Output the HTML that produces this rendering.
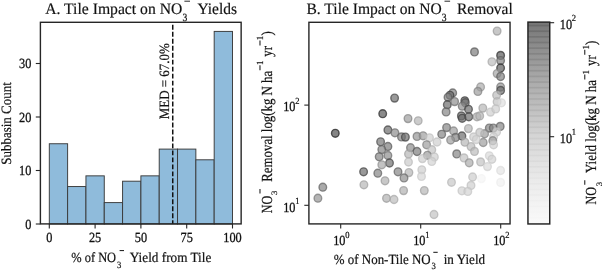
<!DOCTYPE html>
<html><head><meta charset="utf-8"><title>Tile Impact</title>
<style>html,body{margin:0;padding:0;background:#fff;}body{width:602px;height:270px;overflow:hidden;font-family:"Liberation Serif",serif;}svg{display:block;will-change:transform;}</style></head>
<body>
<svg width="602" height="270" viewBox="0 0 602 270" font-family="'Liberation Serif', serif" fill="#111" stroke="#111" stroke-width="0" text-rendering="geometricPrecision">
<g class="t" stroke-width="0.18">
</g>
<rect x="49.30" y="143.75" width="18.32" height="80.25" fill="#8fbbdb" stroke="#3a3a3a" stroke-width="0.95"/>
<rect x="67.62" y="186.55" width="18.32" height="37.45" fill="#8fbbdb" stroke="#3a3a3a" stroke-width="0.95"/>
<rect x="85.94" y="175.85" width="18.32" height="48.15" fill="#8fbbdb" stroke="#3a3a3a" stroke-width="0.95"/>
<rect x="104.26" y="202.60" width="18.32" height="21.40" fill="#8fbbdb" stroke="#3a3a3a" stroke-width="0.95"/>
<rect x="122.58" y="181.20" width="18.32" height="42.80" fill="#8fbbdb" stroke="#3a3a3a" stroke-width="0.95"/>
<rect x="140.90" y="175.85" width="18.32" height="48.15" fill="#8fbbdb" stroke="#3a3a3a" stroke-width="0.95"/>
<rect x="159.22" y="149.10" width="18.32" height="74.90" fill="#8fbbdb" stroke="#3a3a3a" stroke-width="0.95"/>
<rect x="177.54" y="149.10" width="18.32" height="74.90" fill="#8fbbdb" stroke="#3a3a3a" stroke-width="0.95"/>
<rect x="195.86" y="159.80" width="18.32" height="64.20" fill="#8fbbdb" stroke="#3a3a3a" stroke-width="0.95"/>
<rect x="214.18" y="31.40" width="18.32" height="192.60" fill="#8fbbdb" stroke="#3a3a3a" stroke-width="0.95"/>
<path d="M172.74 223.9 V22.3" stroke="#111" stroke-width="1.5" stroke-dasharray="4.9 2.08" stroke-dashoffset="1.25" fill="none"/>
<rect x="40.4" y="22.3" width="200.75" height="201.60" fill="none" stroke="#262626" stroke-width="1.4"/>
<g stroke-width="0.18">
<path d="M49.30 223.9 v4.6" stroke="#262626" stroke-width="1.1"/>
<text transform="translate(49.30 242.40) scale(1 1.135)" font-size="12.3" text-anchor="middle" stroke-width="0.25">0</text>
<path d="M95.10 223.9 v4.6" stroke="#262626" stroke-width="1.1"/>
<text transform="translate(95.10 242.40) scale(1 1.135)" font-size="12.3" text-anchor="middle" stroke-width="0.25">25</text>
<path d="M140.90 223.9 v4.6" stroke="#262626" stroke-width="1.1"/>
<text transform="translate(140.90 242.40) scale(1 1.135)" font-size="12.3" text-anchor="middle" stroke-width="0.25">50</text>
<path d="M186.70 223.9 v4.6" stroke="#262626" stroke-width="1.1"/>
<text transform="translate(186.70 242.40) scale(1 1.135)" font-size="12.3" text-anchor="middle" stroke-width="0.25">75</text>
<path d="M232.50 223.9 v4.6" stroke="#262626" stroke-width="1.1"/>
<text transform="translate(232.50 242.40) scale(1 1.135)" font-size="12.3" text-anchor="middle" stroke-width="0.25">100</text>
<path d="M40.4 224.00 h-4.6" stroke="#262626" stroke-width="1.1"/>
<text transform="translate(31.30 228.90) scale(1 1.135)" font-size="12.3" text-anchor="end" stroke-width="0.25">0</text>
<path d="M40.4 170.50 h-4.6" stroke="#262626" stroke-width="1.1"/>
<text transform="translate(31.30 175.40) scale(1 1.135)" font-size="12.3" text-anchor="end" stroke-width="0.25">10</text>
<path d="M40.4 117.00 h-4.6" stroke="#262626" stroke-width="1.1"/>
<text transform="translate(31.30 121.90) scale(1 1.135)" font-size="12.3" text-anchor="end" stroke-width="0.25">20</text>
<path d="M40.4 63.50 h-4.6" stroke="#262626" stroke-width="1.1"/>
<text transform="translate(31.30 68.40) scale(1 1.135)" font-size="12.3" text-anchor="end" stroke-width="0.25">30</text>
<text transform="translate(168.6 119.2) rotate(-90) scale(1 1.08)" font-size="13.2" textLength="75.9" lengthAdjust="spacingAndGlyphs">MED = 67.0%</text>
<text transform="translate(10.7 123.5) rotate(-90) scale(1 1.08)" font-size="13.2" text-anchor="middle" textLength="82.6" lengthAdjust="spacingAndGlyphs">Subbasin Count</text>
<text transform="translate(45.20 14.30) scale(1 1.04)" font-size="15.4" textLength="137.1" lengthAdjust="spacingAndGlyphs">A. Tile Impact on NO</text>
<text transform="translate(182.40 21.00) scale(1 1.15)" font-size="9.6">3</text>
<path d="M184.4 1.2 h5.6" stroke="#111" stroke-width="0.9"/>
<text transform="translate(197.50 14.30) scale(1 1.04)" font-size="15.4" textLength="39.5" lengthAdjust="spacingAndGlyphs">Yields</text>
<text transform="translate(71.20 261.80) scale(1 1.1)" font-size="12.8" textLength="44.9" lengthAdjust="spacingAndGlyphs">% of NO</text>
<text transform="translate(117.00 267.80) scale(1 1.1)" font-size="8.7">3</text>
<path d="M119.6 250.6 h4.4" stroke="#111" stroke-width="1"/>
<text transform="translate(129.80 261.80) scale(1 1.1)" font-size="12.8" textLength="81.5" lengthAdjust="spacingAndGlyphs">Yield from Tile</text>
</g>
<ellipse cx="497.1" cy="31.1" rx="3.8" ry="3.95" fill="#b0b0b0" fill-opacity="0.7" stroke="#999999" stroke-opacity="0.7" stroke-width="1.4"/>
<ellipse cx="474.5" cy="51.9" rx="3.8" ry="3.95" fill="#7e7e7e" fill-opacity="0.7" stroke="#585858" stroke-opacity="0.7" stroke-width="1.4"/>
<ellipse cx="500.6" cy="55.4" rx="3.8" ry="3.95" fill="#5c5c5c" fill-opacity="0.7" stroke="#2b2b2b" stroke-opacity="0.7" stroke-width="1.4"/>
<ellipse cx="500.6" cy="60.6" rx="3.8" ry="3.95" fill="#838383" fill-opacity="0.7" stroke="#5d5d5d" stroke-opacity="0.7" stroke-width="1.4"/>
<ellipse cx="491.9" cy="61.8" rx="3.8" ry="3.95" fill="#bcbcbc" fill-opacity="0.7" stroke="#a8a8a8" stroke-opacity="0.7" stroke-width="1.4"/>
<ellipse cx="500.6" cy="68.0" rx="3.8" ry="3.95" fill="#5e5e5e" fill-opacity="0.7" stroke="#2d2d2d" stroke-opacity="0.7" stroke-width="1.4"/>
<ellipse cx="497.1" cy="73.6" rx="3.8" ry="3.95" fill="#a5a5a5" fill-opacity="0.7" stroke="#8a8a8a" stroke-opacity="0.7" stroke-width="1.4"/>
<ellipse cx="500.6" cy="76.5" rx="3.8" ry="3.95" fill="#838383" fill-opacity="0.7" stroke="#5d5d5d" stroke-opacity="0.7" stroke-width="1.4"/>
<ellipse cx="480.6" cy="87.0" rx="3.8" ry="3.95" fill="#acacac" fill-opacity="0.7" stroke="#939393" stroke-opacity="0.7" stroke-width="1.4"/>
<ellipse cx="477.9" cy="91.4" rx="3.8" ry="3.95" fill="#9e9e9e" fill-opacity="0.7" stroke="#818181" stroke-opacity="0.7" stroke-width="1.4"/>
<ellipse cx="500.6" cy="87.0" rx="3.8" ry="3.95" fill="#959595" fill-opacity="0.7" stroke="#767676" stroke-opacity="0.7" stroke-width="1.4"/>
<ellipse cx="500.6" cy="90.5" rx="3.8" ry="3.95" fill="#6d6d6d" fill-opacity="0.7" stroke="#424242" stroke-opacity="0.7" stroke-width="1.4"/>
<ellipse cx="496.6" cy="95.3" rx="3.8" ry="3.95" fill="#bcbcbc" fill-opacity="0.7" stroke="#a8a8a8" stroke-opacity="0.7" stroke-width="1.4"/>
<ellipse cx="497.1" cy="101.7" rx="3.8" ry="3.95" fill="#c3c3c3" fill-opacity="0.7" stroke="#b1b1b1" stroke-opacity="0.7" stroke-width="1.4"/>
<ellipse cx="501.5" cy="102.8" rx="3.8" ry="3.95" fill="#dedede" fill-opacity="0.7" stroke="#d4d4d4" stroke-opacity="0.7" stroke-width="1.4"/>
<ellipse cx="452.7" cy="93.0" rx="3.8" ry="3.95" fill="#838383" fill-opacity="0.7" stroke="#5d5d5d" stroke-opacity="0.7" stroke-width="1.4"/>
<ellipse cx="450.0" cy="95.3" rx="3.8" ry="3.95" fill="#696969" fill-opacity="0.7" stroke="#3c3c3c" stroke-opacity="0.7" stroke-width="1.4"/>
<ellipse cx="448.0" cy="97.3" rx="3.8" ry="3.95" fill="#838383" fill-opacity="0.7" stroke="#5d5d5d" stroke-opacity="0.7" stroke-width="1.4"/>
<ellipse cx="447.3" cy="104.7" rx="3.8" ry="3.95" fill="#6d6d6d" fill-opacity="0.7" stroke="#424242" stroke-opacity="0.7" stroke-width="1.4"/>
<ellipse cx="454.6" cy="101.6" rx="3.8" ry="3.95" fill="#8e8e8e" fill-opacity="0.7" stroke="#6c6c6c" stroke-opacity="0.7" stroke-width="1.4"/>
<ellipse cx="464.8" cy="100.8" rx="3.8" ry="3.95" fill="#656565" fill-opacity="0.7" stroke="#363636" stroke-opacity="0.7" stroke-width="1.4"/>
<ellipse cx="465.3" cy="102.7" rx="3.8" ry="3.95" fill="#747474" fill-opacity="0.7" stroke="#4b4b4b" stroke-opacity="0.7" stroke-width="1.4"/>
<ellipse cx="462.2" cy="106.2" rx="3.8" ry="3.95" fill="#8e8e8e" fill-opacity="0.7" stroke="#6c6c6c" stroke-opacity="0.7" stroke-width="1.4"/>
<ellipse cx="468.5" cy="109.3" rx="3.8" ry="3.95" fill="#6d6d6d" fill-opacity="0.7" stroke="#424242" stroke-opacity="0.7" stroke-width="1.4"/>
<ellipse cx="446.1" cy="111.9" rx="3.8" ry="3.95" fill="#868686" fill-opacity="0.7" stroke="#616161" stroke-opacity="0.7" stroke-width="1.4"/>
<ellipse cx="461.4" cy="115.9" rx="3.8" ry="3.95" fill="#6c6c6c" fill-opacity="0.7" stroke="#404040" stroke-opacity="0.7" stroke-width="1.4"/>
<ellipse cx="462.2" cy="118.3" rx="3.8" ry="3.95" fill="#6c6c6c" fill-opacity="0.7" stroke="#404040" stroke-opacity="0.7" stroke-width="1.4"/>
<ellipse cx="468.8" cy="116.8" rx="3.8" ry="3.95" fill="#6d6d6d" fill-opacity="0.7" stroke="#424242" stroke-opacity="0.7" stroke-width="1.4"/>
<ellipse cx="477.0" cy="116.8" rx="3.8" ry="3.95" fill="#b0b0b0" fill-opacity="0.7" stroke="#999999" stroke-opacity="0.7" stroke-width="1.4"/>
<ellipse cx="479.7" cy="115.9" rx="3.8" ry="3.95" fill="#b6b6b6" fill-opacity="0.7" stroke="#a0a0a0" stroke-opacity="0.7" stroke-width="1.4"/>
<ellipse cx="482.8" cy="108.1" rx="3.8" ry="3.95" fill="#b6b6b6" fill-opacity="0.7" stroke="#a0a0a0" stroke-opacity="0.7" stroke-width="1.4"/>
<ellipse cx="490.5" cy="112.1" rx="3.8" ry="3.95" fill="#cecece" fill-opacity="0.7" stroke="#c0c0c0" stroke-opacity="0.7" stroke-width="1.4"/>
<ellipse cx="495.7" cy="108.9" rx="3.8" ry="3.95" fill="#cecece" fill-opacity="0.7" stroke="#c0c0c0" stroke-opacity="0.7" stroke-width="1.4"/>
<ellipse cx="418.2" cy="120.8" rx="3.8" ry="3.95" fill="#b6b6b6" fill-opacity="0.7" stroke="#a0a0a0" stroke-opacity="0.7" stroke-width="1.4"/>
<ellipse cx="408.0" cy="118.6" rx="3.8" ry="3.95" fill="#9e9e9e" fill-opacity="0.7" stroke="#818181" stroke-opacity="0.7" stroke-width="1.4"/>
<ellipse cx="394.6" cy="98.1" rx="3.8" ry="3.95" fill="#6d6d6d" fill-opacity="0.7" stroke="#424242" stroke-opacity="0.7" stroke-width="1.4"/>
<ellipse cx="382.7" cy="113.7" rx="3.8" ry="3.95" fill="#595959" fill-opacity="0.7" stroke="#282828" stroke-opacity="0.7" stroke-width="1.4"/>
<ellipse cx="387.9" cy="130.0" rx="3.8" ry="3.95" fill="#6d6d6d" fill-opacity="0.7" stroke="#424242" stroke-opacity="0.7" stroke-width="1.4"/>
<ellipse cx="394.9" cy="132.8" rx="3.8" ry="3.95" fill="#8e8e8e" fill-opacity="0.7" stroke="#6c6c6c" stroke-opacity="0.7" stroke-width="1.4"/>
<ellipse cx="335.3" cy="133.3" rx="3.8" ry="3.95" fill="#515151" fill-opacity="0.7" stroke="#1c1c1c" stroke-opacity="0.7" stroke-width="1.4"/>
<ellipse cx="446.6" cy="127.6" rx="3.8" ry="3.95" fill="#868686" fill-opacity="0.7" stroke="#616161" stroke-opacity="0.7" stroke-width="1.4"/>
<ellipse cx="453.6" cy="131.0" rx="3.8" ry="3.95" fill="#9e9e9e" fill-opacity="0.7" stroke="#818181" stroke-opacity="0.7" stroke-width="1.4"/>
<ellipse cx="441.7" cy="134.3" rx="3.8" ry="3.95" fill="#868686" fill-opacity="0.7" stroke="#616161" stroke-opacity="0.7" stroke-width="1.4"/>
<ellipse cx="468.4" cy="128.6" rx="3.8" ry="3.95" fill="#b6b6b6" fill-opacity="0.7" stroke="#a0a0a0" stroke-opacity="0.7" stroke-width="1.4"/>
<ellipse cx="461.9" cy="136.0" rx="3.8" ry="3.95" fill="#6d6d6d" fill-opacity="0.7" stroke="#424242" stroke-opacity="0.7" stroke-width="1.4"/>
<ellipse cx="455.6" cy="137.4" rx="3.8" ry="3.95" fill="#868686" fill-opacity="0.7" stroke="#616161" stroke-opacity="0.7" stroke-width="1.4"/>
<ellipse cx="450.6" cy="140.0" rx="3.8" ry="3.95" fill="#9e9e9e" fill-opacity="0.7" stroke="#818181" stroke-opacity="0.7" stroke-width="1.4"/>
<ellipse cx="489.3" cy="128.1" rx="3.8" ry="3.95" fill="#868686" fill-opacity="0.7" stroke="#616161" stroke-opacity="0.7" stroke-width="1.4"/>
<ellipse cx="493.3" cy="128.1" rx="3.8" ry="3.95" fill="#868686" fill-opacity="0.7" stroke="#616161" stroke-opacity="0.7" stroke-width="1.4"/>
<ellipse cx="500.2" cy="126.4" rx="3.8" ry="3.95" fill="#868686" fill-opacity="0.7" stroke="#616161" stroke-opacity="0.7" stroke-width="1.4"/>
<ellipse cx="496.6" cy="131.9" rx="3.8" ry="3.95" fill="#cecece" fill-opacity="0.7" stroke="#c0c0c0" stroke-opacity="0.7" stroke-width="1.4"/>
<ellipse cx="484.6" cy="133.7" rx="3.8" ry="3.95" fill="#9e9e9e" fill-opacity="0.7" stroke="#818181" stroke-opacity="0.7" stroke-width="1.4"/>
<ellipse cx="479.7" cy="132.5" rx="3.8" ry="3.95" fill="#c3c3c3" fill-opacity="0.7" stroke="#b1b1b1" stroke-opacity="0.7" stroke-width="1.4"/>
<ellipse cx="473.6" cy="136.9" rx="3.8" ry="3.95" fill="#cecece" fill-opacity="0.7" stroke="#c0c0c0" stroke-opacity="0.7" stroke-width="1.4"/>
<ellipse cx="493.6" cy="136.8" rx="3.8" ry="3.95" fill="#d3d3d3" fill-opacity="0.7" stroke="#c5c5c5" stroke-opacity="0.7" stroke-width="1.4"/>
<ellipse cx="417.0" cy="136.4" rx="3.8" ry="3.95" fill="#959595" fill-opacity="0.7" stroke="#767676" stroke-opacity="0.7" stroke-width="1.4"/>
<ellipse cx="423.1" cy="135.8" rx="3.8" ry="3.95" fill="#9e9e9e" fill-opacity="0.7" stroke="#818181" stroke-opacity="0.7" stroke-width="1.4"/>
<ellipse cx="429.5" cy="137.8" rx="3.8" ry="3.95" fill="#cecece" fill-opacity="0.7" stroke="#c0c0c0" stroke-opacity="0.7" stroke-width="1.4"/>
<ellipse cx="437.0" cy="142.0" rx="3.8" ry="3.95" fill="#cecece" fill-opacity="0.7" stroke="#c0c0c0" stroke-opacity="0.7" stroke-width="1.4"/>
<ellipse cx="492.8" cy="140.7" rx="3.8" ry="3.95" fill="#9e9e9e" fill-opacity="0.7" stroke="#818181" stroke-opacity="0.7" stroke-width="1.4"/>
<ellipse cx="483.2" cy="142.5" rx="3.8" ry="3.95" fill="#9e9e9e" fill-opacity="0.7" stroke="#818181" stroke-opacity="0.7" stroke-width="1.4"/>
<ellipse cx="401.5" cy="136.9" rx="3.8" ry="3.95" fill="#868686" fill-opacity="0.7" stroke="#616161" stroke-opacity="0.7" stroke-width="1.4"/>
<ellipse cx="405.4" cy="137.1" rx="3.8" ry="3.95" fill="#6d6d6d" fill-opacity="0.7" stroke="#424242" stroke-opacity="0.7" stroke-width="1.4"/>
<ellipse cx="426.6" cy="144.8" rx="3.8" ry="3.95" fill="#9e9e9e" fill-opacity="0.7" stroke="#818181" stroke-opacity="0.7" stroke-width="1.4"/>
<ellipse cx="410.5" cy="147.7" rx="3.8" ry="3.95" fill="#8e8e8e" fill-opacity="0.7" stroke="#6c6c6c" stroke-opacity="0.7" stroke-width="1.4"/>
<ellipse cx="417.0" cy="151.5" rx="3.8" ry="3.95" fill="#7e7e7e" fill-opacity="0.7" stroke="#585858" stroke-opacity="0.7" stroke-width="1.4"/>
<ellipse cx="431.8" cy="149.7" rx="3.8" ry="3.95" fill="#c3c3c3" fill-opacity="0.7" stroke="#b1b1b1" stroke-opacity="0.7" stroke-width="1.4"/>
<ellipse cx="427.4" cy="155.3" rx="3.8" ry="3.95" fill="#9e9e9e" fill-opacity="0.7" stroke="#818181" stroke-opacity="0.7" stroke-width="1.4"/>
<ellipse cx="434.4" cy="157.0" rx="3.8" ry="3.95" fill="#cecece" fill-opacity="0.7" stroke="#c0c0c0" stroke-opacity="0.7" stroke-width="1.4"/>
<ellipse cx="422.4" cy="158.6" rx="3.8" ry="3.95" fill="#cecece" fill-opacity="0.7" stroke="#c0c0c0" stroke-opacity="0.7" stroke-width="1.4"/>
<ellipse cx="431.8" cy="161.4" rx="3.8" ry="3.95" fill="#d3d3d3" fill-opacity="0.7" stroke="#c5c5c5" stroke-opacity="0.7" stroke-width="1.4"/>
<ellipse cx="421.8" cy="169.8" rx="3.8" ry="3.95" fill="#cecece" fill-opacity="0.7" stroke="#c0c0c0" stroke-opacity="0.7" stroke-width="1.4"/>
<ellipse cx="421.5" cy="176.4" rx="3.8" ry="3.95" fill="#d6d6d6" fill-opacity="0.7" stroke="#c9c9c9" stroke-opacity="0.7" stroke-width="1.4"/>
<ellipse cx="456.7" cy="153.9" rx="3.8" ry="3.95" fill="#868686" fill-opacity="0.7" stroke="#616161" stroke-opacity="0.7" stroke-width="1.4"/>
<ellipse cx="464.0" cy="157.9" rx="3.8" ry="3.95" fill="#c3c3c3" fill-opacity="0.7" stroke="#b1b1b1" stroke-opacity="0.7" stroke-width="1.4"/>
<ellipse cx="469.2" cy="162.8" rx="3.8" ry="3.95" fill="#acacac" fill-opacity="0.7" stroke="#939393" stroke-opacity="0.7" stroke-width="1.4"/>
<ellipse cx="464.9" cy="142.2" rx="3.8" ry="3.95" fill="#b6b6b6" fill-opacity="0.7" stroke="#a0a0a0" stroke-opacity="0.7" stroke-width="1.4"/>
<ellipse cx="471.0" cy="146.6" rx="3.8" ry="3.95" fill="#bcbcbc" fill-opacity="0.7" stroke="#a8a8a8" stroke-opacity="0.7" stroke-width="1.4"/>
<ellipse cx="474.5" cy="151.4" rx="3.8" ry="3.95" fill="#bcbcbc" fill-opacity="0.7" stroke="#a8a8a8" stroke-opacity="0.7" stroke-width="1.4"/>
<ellipse cx="476.2" cy="139.6" rx="3.8" ry="3.95" fill="#d3d3d3" fill-opacity="0.7" stroke="#c5c5c5" stroke-opacity="0.7" stroke-width="1.4"/>
<ellipse cx="493.6" cy="144.8" rx="3.8" ry="3.95" fill="#d3d3d3" fill-opacity="0.7" stroke="#c5c5c5" stroke-opacity="0.7" stroke-width="1.4"/>
<ellipse cx="480.6" cy="161.9" rx="3.8" ry="3.95" fill="#c3c3c3" fill-opacity="0.7" stroke="#b1b1b1" stroke-opacity="0.7" stroke-width="1.4"/>
<ellipse cx="489.3" cy="155.8" rx="3.8" ry="3.95" fill="#dadada" fill-opacity="0.7" stroke="#cfcfcf" stroke-opacity="0.7" stroke-width="1.4"/>
<ellipse cx="491.9" cy="159.3" rx="3.8" ry="3.95" fill="#d3d3d3" fill-opacity="0.7" stroke="#c5c5c5" stroke-opacity="0.7" stroke-width="1.4"/>
<ellipse cx="487.5" cy="166.6" rx="3.8" ry="3.95" fill="#dadada" fill-opacity="0.7" stroke="#cfcfcf" stroke-opacity="0.7" stroke-width="1.4"/>
<ellipse cx="500.6" cy="170.5" rx="3.8" ry="3.95" fill="#e4e4e4" fill-opacity="0.7" stroke="#dcdcdc" stroke-opacity="0.7" stroke-width="1.4"/>
<ellipse cx="472.6" cy="177.0" rx="3.8" ry="3.95" fill="#cdcdcd" fill-opacity="0.7" stroke="#bebebe" stroke-opacity="0.7" stroke-width="1.4"/>
<ellipse cx="471.0" cy="185.4" rx="3.8" ry="3.95" fill="#cecece" fill-opacity="0.7" stroke="#c0c0c0" stroke-opacity="0.7" stroke-width="1.4"/>
<ellipse cx="461.9" cy="190.8" rx="3.8" ry="3.95" fill="#d3d3d3" fill-opacity="0.7" stroke="#c5c5c5" stroke-opacity="0.7" stroke-width="1.4"/>
<ellipse cx="467.8" cy="191.4" rx="3.8" ry="3.95" fill="#d3d3d3" fill-opacity="0.7" stroke="#c5c5c5" stroke-opacity="0.7" stroke-width="1.4"/>
<ellipse cx="451.5" cy="182.3" rx="3.8" ry="3.95" fill="#c7c7c7" fill-opacity="0.7" stroke="#b7b7b7" stroke-opacity="0.7" stroke-width="1.4"/>
<ellipse cx="481.4" cy="178.6" rx="3.8" ry="3.95" fill="#f5f5f5" fill-opacity="0.7" stroke="#f2f2f2" stroke-opacity="0.7" stroke-width="1.4"/>
<ellipse cx="500.6" cy="182.4" rx="3.8" ry="3.95" fill="#f1f1f1" fill-opacity="0.7" stroke="#ececec" stroke-opacity="0.7" stroke-width="1.4"/>
<ellipse cx="424.3" cy="190.6" rx="3.8" ry="3.95" fill="#b6b6b6" fill-opacity="0.7" stroke="#a0a0a0" stroke-opacity="0.7" stroke-width="1.4"/>
<ellipse cx="434.0" cy="214.5" rx="3.8" ry="3.95" fill="#c3c3c3" fill-opacity="0.7" stroke="#b1b1b1" stroke-opacity="0.7" stroke-width="1.4"/>
<ellipse cx="380.6" cy="141.8" rx="3.8" ry="3.95" fill="#777777" fill-opacity="0.7" stroke="#4f4f4f" stroke-opacity="0.7" stroke-width="1.4"/>
<ellipse cx="387.9" cy="146.5" rx="3.8" ry="3.95" fill="#7e7e7e" fill-opacity="0.7" stroke="#585858" stroke-opacity="0.7" stroke-width="1.4"/>
<ellipse cx="381.8" cy="149.6" rx="3.8" ry="3.95" fill="#868686" fill-opacity="0.7" stroke="#616161" stroke-opacity="0.7" stroke-width="1.4"/>
<ellipse cx="379.2" cy="156.8" rx="3.8" ry="3.95" fill="#868686" fill-opacity="0.7" stroke="#616161" stroke-opacity="0.7" stroke-width="1.4"/>
<ellipse cx="387.9" cy="155.5" rx="3.8" ry="3.95" fill="#8e8e8e" fill-opacity="0.7" stroke="#6c6c6c" stroke-opacity="0.7" stroke-width="1.4"/>
<ellipse cx="389.5" cy="163.0" rx="3.8" ry="3.95" fill="#727272" fill-opacity="0.7" stroke="#474747" stroke-opacity="0.7" stroke-width="1.4"/>
<ellipse cx="381.8" cy="164.8" rx="3.8" ry="3.95" fill="#a8a8a8" fill-opacity="0.7" stroke="#8e8e8e" stroke-opacity="0.7" stroke-width="1.4"/>
<ellipse cx="408.5" cy="154.0" rx="3.8" ry="3.95" fill="#b6b6b6" fill-opacity="0.7" stroke="#a0a0a0" stroke-opacity="0.7" stroke-width="1.4"/>
<ellipse cx="408.5" cy="162.0" rx="3.8" ry="3.95" fill="#cacaca" fill-opacity="0.7" stroke="#bababa" stroke-opacity="0.7" stroke-width="1.4"/>
<ellipse cx="363.6" cy="171.8" rx="3.8" ry="3.95" fill="#6d6d6d" fill-opacity="0.7" stroke="#424242" stroke-opacity="0.7" stroke-width="1.4"/>
<ellipse cx="377.8" cy="173.2" rx="3.8" ry="3.95" fill="#868686" fill-opacity="0.7" stroke="#616161" stroke-opacity="0.7" stroke-width="1.4"/>
<ellipse cx="398.0" cy="171.8" rx="3.8" ry="3.95" fill="#868686" fill-opacity="0.7" stroke="#616161" stroke-opacity="0.7" stroke-width="1.4"/>
<ellipse cx="408.9" cy="172.6" rx="3.8" ry="3.95" fill="#b6b6b6" fill-opacity="0.7" stroke="#a0a0a0" stroke-opacity="0.7" stroke-width="1.4"/>
<ellipse cx="404.0" cy="177.9" rx="3.8" ry="3.95" fill="#8e8e8e" fill-opacity="0.7" stroke="#6c6c6c" stroke-opacity="0.7" stroke-width="1.4"/>
<ellipse cx="385.0" cy="180.8" rx="3.8" ry="3.95" fill="#b0b0b0" fill-opacity="0.7" stroke="#999999" stroke-opacity="0.7" stroke-width="1.4"/>
<ellipse cx="363.9" cy="184.8" rx="3.8" ry="3.95" fill="#b6b6b6" fill-opacity="0.7" stroke="#a0a0a0" stroke-opacity="0.7" stroke-width="1.4"/>
<ellipse cx="322.8" cy="187.2" rx="3.8" ry="3.95" fill="#868686" fill-opacity="0.7" stroke="#616161" stroke-opacity="0.7" stroke-width="1.4"/>
<ellipse cx="403.6" cy="190.6" rx="3.8" ry="3.95" fill="#b0b0b0" fill-opacity="0.7" stroke="#999999" stroke-opacity="0.7" stroke-width="1.4"/>
<ellipse cx="317.9" cy="198.2" rx="3.8" ry="3.95" fill="#959595" fill-opacity="0.7" stroke="#767676" stroke-opacity="0.7" stroke-width="1.4"/>
<ellipse cx="386.5" cy="198.3" rx="3.8" ry="3.95" fill="#b0b0b0" fill-opacity="0.7" stroke="#999999" stroke-opacity="0.7" stroke-width="1.4"/>
<ellipse cx="394.0" cy="199.5" rx="3.8" ry="3.95" fill="#bcbcbc" fill-opacity="0.7" stroke="#a8a8a8" stroke-opacity="0.7" stroke-width="1.4"/>
<rect x="308.9" y="22.3" width="201.15" height="201.60" fill="none" stroke="#262626" stroke-width="1.4"/>
<g stroke-width="0.18">
<path d="M340.70 223.9 v4.5" stroke="#262626" stroke-width="1.1"/>
<text transform="translate(333.20 245.30) scale(1 1.135)" font-size="12.3" stroke-width="0.25">10</text>
<text transform="translate(345.20 237.60) scale(1 1.1)" font-size="8.5" stroke-width="0.2">0</text>
<path d="M420.70 223.9 v4.5" stroke="#262626" stroke-width="1.1"/>
<text transform="translate(413.20 245.30) scale(1 1.135)" font-size="12.3" stroke-width="0.25">10</text>
<text transform="translate(425.20 237.60) scale(1 1.1)" font-size="8.5" stroke-width="0.2">1</text>
<path d="M500.70 223.9 v4.5" stroke="#262626" stroke-width="1.1"/>
<text transform="translate(493.20 245.30) scale(1 1.135)" font-size="12.3" stroke-width="0.25">10</text>
<text transform="translate(505.20 237.60) scale(1 1.1)" font-size="8.5" stroke-width="0.2">2</text>
<path d="M308.9 205.30 h-4.6" stroke="#262626" stroke-width="1.1"/>
<text transform="translate(283.20 211.50) scale(1 1.135)" font-size="12.3" stroke-width="0.25">10</text>
<text transform="translate(295.20 203.80) scale(1 1.1)" font-size="8.5" stroke-width="0.2">1</text>
<path d="M308.9 105.10 h-4.6" stroke="#262626" stroke-width="1.1"/>
<text transform="translate(283.20 111.30) scale(1 1.135)" font-size="12.3" stroke-width="0.25">10</text>
<text transform="translate(295.20 103.60) scale(1 1.1)" font-size="8.5" stroke-width="0.2">2</text>
<text transform="translate(306.50 14.30) scale(1 1.04)" font-size="15.4" textLength="135.2" lengthAdjust="spacingAndGlyphs">B. Tile Impact on NO</text>
<text transform="translate(441.80 21.00) scale(1 1.15)" font-size="9.6">3</text>
<path d="M444.5 1.2 h5.6" stroke="#111" stroke-width="0.9"/>
<text transform="translate(457.00 14.30) scale(1 1.04)" font-size="15.4" textLength="55.7" lengthAdjust="spacingAndGlyphs">Removal</text>
<text transform="translate(333.80 263.80) scale(1 1.1)" font-size="12.8" textLength="96.9" lengthAdjust="spacingAndGlyphs">% of Non-Tile NO</text>
<text transform="translate(431.60 268.90) scale(1 1.1)" font-size="8.7">3</text>
<path d="M433.3 252.3 h4.4" stroke="#111" stroke-width="1"/>
<text transform="translate(443.70 263.80) scale(1 1.1)" font-size="12.8" textLength="41.4" lengthAdjust="spacingAndGlyphs">in Yield</text>
<g transform="translate(271.5 213.3) rotate(-90) scale(1 1.2)">
<text x="0" y="0" font-size="12.8" textLength="17.6" lengthAdjust="spacingAndGlyphs">NO</text>
<text transform="translate(18.4 4.4) scale(1 .8)" font-size="8.7">3</text>
<path d="M19.8 -9.6 h4.6" stroke="#111" stroke-width="0.85"/>
<text x="31.6" y="0" font-size="12.8" textLength="110.9" lengthAdjust="spacingAndGlyphs">Removal log(kg N ha</text>
<path d="M143.00 -9.6 h5.0" stroke="#111" stroke-width="0.85"/>
<text transform="translate(148.20 -7.3) scale(1 .9)" font-size="8.7">1</text>
<text x="156.60" y="0" font-size="12.8">yr</text>
<path d="M167.80 -9.6 h5.0" stroke="#111" stroke-width="0.85"/>
<text transform="translate(173.00 -7.3) scale(1 .9)" font-size="8.7">1</text>
<text x="177.70" y="0" font-size="12.8">)</text>
</g>
<g transform="translate(596.3 204.6) rotate(-90) scale(1 1.2)">
<text x="0" y="0" font-size="12.8" textLength="17.6" lengthAdjust="spacingAndGlyphs">NO</text>
<text transform="translate(18.4 4.4) scale(1 .8)" font-size="8.7">3</text>
<path d="M19.8 -9.6 h4.6" stroke="#111" stroke-width="0.85"/>
<text x="31.6" y="0" font-size="12.8" textLength="92.9" lengthAdjust="spacingAndGlyphs">Yield log(kg N ha</text>
<path d="M125.00 -9.6 h5.0" stroke="#111" stroke-width="0.85"/>
<text transform="translate(130.20 -6.0) scale(1 .9)" font-size="8.7">1</text>
<text x="138.60" y="0" font-size="12.8">yr</text>
<path d="M149.80 -9.6 h5.0" stroke="#111" stroke-width="0.85"/>
<text transform="translate(155.00 -6.0) scale(1 .9)" font-size="8.7">1</text>
<text x="159.70" y="0" font-size="12.8">)</text>
</g>
</g>
<defs><linearGradient id="cb" x1="0" y1="0" x2="0" y2="1"><stop offset="0" stop-color="#767676"/><stop offset="0.25" stop-color="#a4a4a4"/><stop offset="0.57" stop-color="#d6d6d6"/><stop offset="0.8" stop-color="#ececec"/><stop offset="1" stop-color="#fafafa"/></linearGradient></defs>
<rect x="527.95" y="22.1" width="21.799999999999955" height="201.85" fill="url(#cb)"/>
<rect x="527.95" y="24.70" width="21.799999999999955" height="1.7" fill="#000" fill-opacity="0.128"/>
<rect x="527.95" y="30.35" width="21.799999999999955" height="1.7" fill="#000" fill-opacity="0.123"/>
<rect x="527.95" y="36.00" width="21.799999999999955" height="1.7" fill="#000" fill-opacity="0.118"/>
<rect x="527.95" y="41.65" width="21.799999999999955" height="1.7" fill="#000" fill-opacity="0.113"/>
<rect x="527.95" y="47.30" width="21.799999999999955" height="1.7" fill="#000" fill-opacity="0.108"/>
<rect x="527.95" y="52.95" width="21.799999999999955" height="1.7" fill="#000" fill-opacity="0.103"/>
<rect x="527.95" y="58.60" width="21.799999999999955" height="1.7" fill="#000" fill-opacity="0.098"/>
<rect x="527.95" y="64.25" width="21.799999999999955" height="1.7" fill="#000" fill-opacity="0.094"/>
<rect x="527.95" y="69.90" width="21.799999999999955" height="1.7" fill="#000" fill-opacity="0.089"/>
<rect x="527.95" y="75.55" width="21.799999999999955" height="1.7" fill="#000" fill-opacity="0.084"/>
<rect x="527.95" y="81.20" width="21.799999999999955" height="1.7" fill="#000" fill-opacity="0.080"/>
<rect x="527.95" y="86.85" width="21.799999999999955" height="1.7" fill="#000" fill-opacity="0.076"/>
<rect x="527.95" y="92.50" width="21.799999999999955" height="1.7" fill="#000" fill-opacity="0.072"/>
<rect x="527.95" y="98.15" width="21.799999999999955" height="1.7" fill="#000" fill-opacity="0.068"/>
<rect x="527.95" y="103.80" width="21.799999999999955" height="1.7" fill="#000" fill-opacity="0.063"/>
<rect x="527.95" y="109.45" width="21.799999999999955" height="1.7" fill="#000" fill-opacity="0.059"/>
<rect x="527.95" y="115.10" width="21.799999999999955" height="1.7" fill="#000" fill-opacity="0.055"/>
<rect x="527.95" y="120.75" width="21.799999999999955" height="1.7" fill="#000" fill-opacity="0.051"/>
<rect x="527.95" y="126.40" width="21.799999999999955" height="1.7" fill="#000" fill-opacity="0.047"/>
<rect x="527.95" y="132.05" width="21.799999999999955" height="1.7" fill="#000" fill-opacity="0.043"/>
<rect x="527.95" y="137.70" width="21.799999999999955" height="1.7" fill="#000" fill-opacity="0.039"/>
<rect x="527.95" y="143.35" width="21.799999999999955" height="1.7" fill="#000" fill-opacity="0.036"/>
<rect x="527.95" y="149.00" width="21.799999999999955" height="1.7" fill="#000" fill-opacity="0.034"/>
<rect x="527.95" y="154.65" width="21.799999999999955" height="1.7" fill="#000" fill-opacity="0.031"/>
<rect x="527.95" y="160.30" width="21.799999999999955" height="1.7" fill="#000" fill-opacity="0.028"/>
<rect x="527.95" y="165.95" width="21.799999999999955" height="1.7" fill="#000" fill-opacity="0.026"/>
<rect x="527.95" y="171.60" width="21.799999999999955" height="1.7" fill="#000" fill-opacity="0.023"/>
<rect x="527.95" y="177.25" width="21.799999999999955" height="1.7" fill="#000" fill-opacity="0.021"/>
<rect x="527.95" y="182.90" width="21.799999999999955" height="1.7" fill="#000" fill-opacity="0.018"/>
<rect x="527.95" y="188.55" width="21.799999999999955" height="1.7" fill="#000" fill-opacity="0.016"/>
<rect x="527.95" y="194.20" width="21.799999999999955" height="1.7" fill="#000" fill-opacity="0.015"/>
<rect x="527.95" y="199.85" width="21.799999999999955" height="1.7" fill="#000" fill-opacity="0.013"/>
<rect x="527.95" y="205.50" width="21.799999999999955" height="1.7" fill="#000" fill-opacity="0.011"/>
<rect x="527.95" y="211.15" width="21.799999999999955" height="1.7" fill="#000" fill-opacity="0.009"/>
<rect x="527.95" y="216.80" width="21.799999999999955" height="1.7" fill="#000" fill-opacity="0.007"/>
<rect x="527.95" y="222.45" width="21.799999999999955" height="1.7" fill="#000" fill-opacity="0.005"/>
<rect x="527.95" y="22.1" width="21.799999999999955" height="201.85" fill="none" stroke="#222" stroke-width="1.45"/>
<g stroke-width="0.18">
<path d="M549.75 22.70 h4.4" stroke="#262626" stroke-width="1.1"/>
<text transform="translate(559.80 28.90) scale(1 1.135)" font-size="12.3" stroke-width="0.25">10</text>
<text transform="translate(571.80 21.20) scale(1 1.1)" font-size="8.5" stroke-width="0.2">2</text>
<path d="M549.75 136.70 h4.4" stroke="#262626" stroke-width="1.1"/>
<text transform="translate(559.80 142.90) scale(1 1.135)" font-size="12.3" stroke-width="0.25">10</text>
<text transform="translate(571.80 135.20) scale(1 1.1)" font-size="8.5" stroke-width="0.2">1</text>
</g>
</svg>
</body></html>
